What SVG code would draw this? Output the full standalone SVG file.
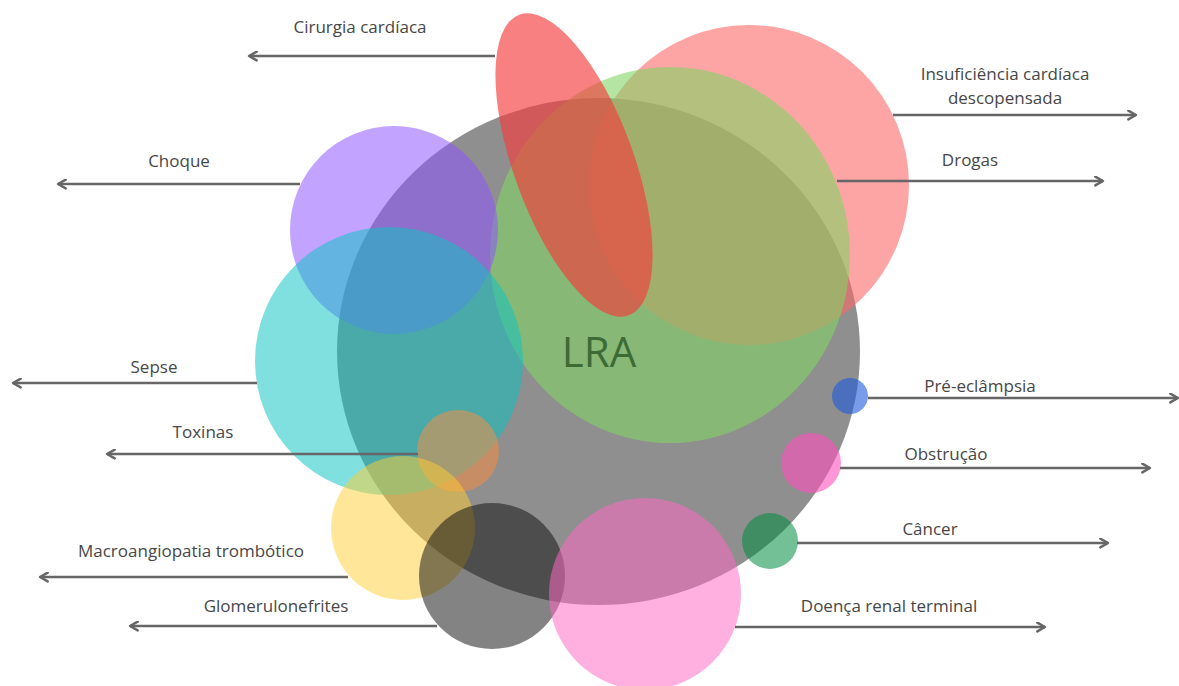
<svg xmlns="http://www.w3.org/2000/svg" width="1179" height="686" viewBox="0 0 1179 686">
  <defs>
    <marker id="arr" viewBox="0 0 10 10" refX="8.5" refY="5" markerWidth="11" markerHeight="11" markerUnits="userSpaceOnUse" orient="auto">
      <path d="M1.5,1 L8.5,5 L1.5,9" fill="none" stroke="#666" stroke-width="2.2" stroke-linecap="round" stroke-linejoin="round"/>
    </marker>
  </defs>
  <style>
    .lbl { font-family: "Open Sans", "Liberation Sans", sans-serif; font-size: 17px; fill: #474747; text-anchor: middle; }
    .main { font-family: "Open Sans", "Liberation Sans", sans-serif; font-size: 42px; fill: #3d6b35; text-anchor: middle; }
    .conn line { stroke: #666; stroke-width: 2.5; marker-end: url(#arr); }
  </style>
  <rect width="1179" height="686" fill="#ffffff"/>

  <g id="lra">
    <ellipse cx="598.5" cy="351.5" rx="261.5" ry="253.5" fill="#000" fill-opacity="0.44"/>
  </g>
  <g id="insuficiencia">
    <circle cx="749" cy="185" r="160" fill="#fc6767" fill-opacity="0.6"/>
    <text class="lbl" x="1005" y="80">Insuficiência cardíaca</text>
    <text class="lbl" x="1005" y="104">descopensada</text>
  </g>
  <g id="drogas">
    <ellipse cx="670" cy="255" rx="180" ry="188" fill="#84d466" fill-opacity="0.6"/>
    <text class="lbl" x="970" y="166">Drogas</text>
  </g>
  <g id="choque">
    <circle cx="394" cy="230" r="104" fill="#8e55ff" fill-opacity="0.54"/>
    <text class="lbl" x="179" y="167">Choque</text>
  </g>
  <g id="sepse">
    <circle cx="389" cy="361" r="134" fill="#0cc4c4" fill-opacity="0.52"/>
    <text class="lbl" x="154" y="373">Sepse</text>
  </g>
  <g id="toxinas">
    <circle cx="458" cy="451" r="41" fill="#ff8c3c" fill-opacity="0.5"/>
    <text class="lbl" x="203" y="438">Toxinas</text>
  </g>
  <g id="macroangiopatia">
    <circle cx="403" cy="528" r="72" fill="#ffcd33" fill-opacity="0.5"/>
    <text class="lbl" x="191" y="557">Macroangiopatia trombótico</text>
  </g>
  <g id="glomerulonefrites">
    <circle cx="492" cy="576" r="73" fill="#111" fill-opacity="0.52"/>
    <text class="lbl" x="276" y="612">Glomerulonefrites</text>
  </g>
  <g id="doenca-renal">
    <circle cx="645" cy="594" r="96" fill="#ff6ac4" fill-opacity="0.53"/>
    <text class="lbl" x="889" y="612">Doença renal terminal</text>
  </g>
  <g id="pre-eclampsia">
    <circle cx="850" cy="396" r="18" fill="#1e5adc" fill-opacity="0.6"/>
    <text class="lbl" x="980" y="392">Pré-eclâmpsia</text>
  </g>
  <g id="obstrucao">
    <circle cx="811" cy="463" r="30" fill="#ff50be" fill-opacity="0.6"/>
    <text class="lbl" x="946" y="460">Obstrução</text>
  </g>
  <g id="cancer">
    <circle cx="770" cy="541" r="28" fill="#008c40" fill-opacity="0.55"/>
    <text class="lbl" x="930" y="535">Câncer</text>
  </g>
  <g id="cirurgia">
    <ellipse cx="574" cy="165" rx="60" ry="160" transform="rotate(-20 574 165)" fill="#f53c3c" fill-opacity="0.65"/>
    <text class="lbl" x="360" y="33">Cirurgia cardíaca</text>
  </g>
  <g id="lra-label">
    <text class="main" x="599" y="367">LRA</text>
  </g>

  <g id="connectors" class="conn">
    <line x1="495" y1="56" x2="249" y2="56"/>
    <line x1="893" y1="115" x2="1136" y2="115"/>
    <line x1="837" y1="181" x2="1103" y2="181"/>
    <line x1="300" y1="184" x2="58" y2="184"/>
    <line x1="257" y1="383" x2="13" y2="383"/>
    <line x1="418" y1="454" x2="107" y2="454"/>
    <line x1="348" y1="577" x2="40" y2="577"/>
    <line x1="437" y1="626" x2="130" y2="626"/>
    <line x1="868" y1="398" x2="1178" y2="398"/>
    <line x1="840" y1="468" x2="1150" y2="468"/>
    <line x1="797" y1="543" x2="1108" y2="543"/>
    <line x1="735" y1="627" x2="1045" y2="627"/>
  </g>
</svg>
